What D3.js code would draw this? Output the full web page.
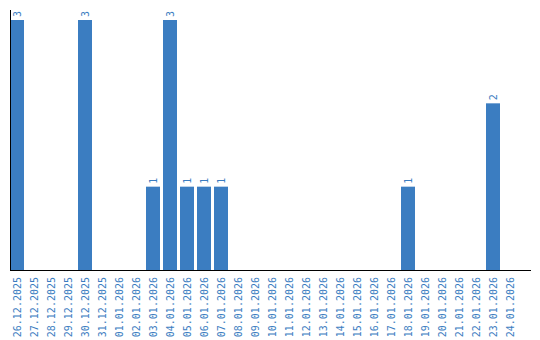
<!DOCTYPE html>
<html><head><meta charset="utf-8">
<script src="https://cdn.jsdelivr.net/npm/d3@7"></script>
<style>body{margin:0;background:#fff}</style>
</head><body>
<svg id="c" width="540" height="340"></svg>
<script>
const dates = ["26.12.2025","27.12.2025","28.12.2025","29.12.2025","30.12.2025","31.12.2025","01.01.2026","02.01.2026","03.01.2026","04.01.2026","05.01.2026","06.01.2026","07.01.2026","08.01.2026","09.01.2026","10.01.2026","11.01.2026","12.01.2026","13.01.2026","14.01.2026","15.01.2026","16.01.2026","17.01.2026","18.01.2026","19.01.2026","20.01.2026","21.01.2026","22.01.2026","23.01.2026","24.01.2026"];
const values = [3,0,0,0,3,0,0,0,1,3,1,1,1,0,0,0,0,0,0,0,0,0,0,1,0,0,0,0,2,0];

(function(){
const svg = d3.select("#c");
const mLeft = 10, mBottom = 270, mTop = 10, mRight = 531;
const color = "#3b7dc1";
const font = "'DejaVu Sans Mono', monospace";

const x = d3.scaleBand().domain(dates).range([mLeft, 517]).paddingInner(3/17).paddingOuter(0);
const y = d3.scaleLinear().domain([0, 3.12]).range([mBottom, mTop]);

const data = dates.map((d,i)=>({d, v: values[i]}));

svg.selectAll("rect.bar").data(data.filter(e=>e.v>0)).join("rect")
  .attr("class","bar")
  .attr("x", e=>x(e.d)).attr("width", x.bandwidth())
  .attr("y", e=>y(e.v)).attr("height", e=>mBottom - y(e.v))
  .attr("fill", color);

svg.selectAll("text.val").data(data.filter(e=>e.v>0)).join("text")
  .attr("class","val")
  .attr("transform", e=>`translate(${x(e.d)+x.bandwidth()/2+3.5},${y(e.v)-3}) rotate(-90)`)
  .attr("font-family", font).attr("font-size", 10).attr("fill", color)
  .attr("text-anchor","start")
  .text(e=>e.v);

const xAxis = svg.append("g").attr("transform",`translate(0,${mBottom})`)
  .call(d3.axisBottom(x).tickSize(0).tickPadding(0));
xAxis.select(".domain").remove();
xAxis.selectAll("text")
  .attr("font-family", font).attr("font-size", 10).attr("fill", color)
  .attr("text-anchor","end").attr("dy", null).attr("y", 0)
  .attr("transform", "translate(3.5,7) rotate(-90)");

svg.append("line").attr("x1", mLeft).attr("x2", mRight).attr("y1", mBottom+0.5).attr("y2", mBottom+0.5)
  .attr("stroke","#000").attr("stroke-width",1);
svg.append("line").attr("x1", mLeft+0.5).attr("x2", mLeft+0.5).attr("y1", mTop).attr("y2", mBottom)
  .attr("stroke","#000").attr("stroke-width",1);
})();
</script>
</body></html>
